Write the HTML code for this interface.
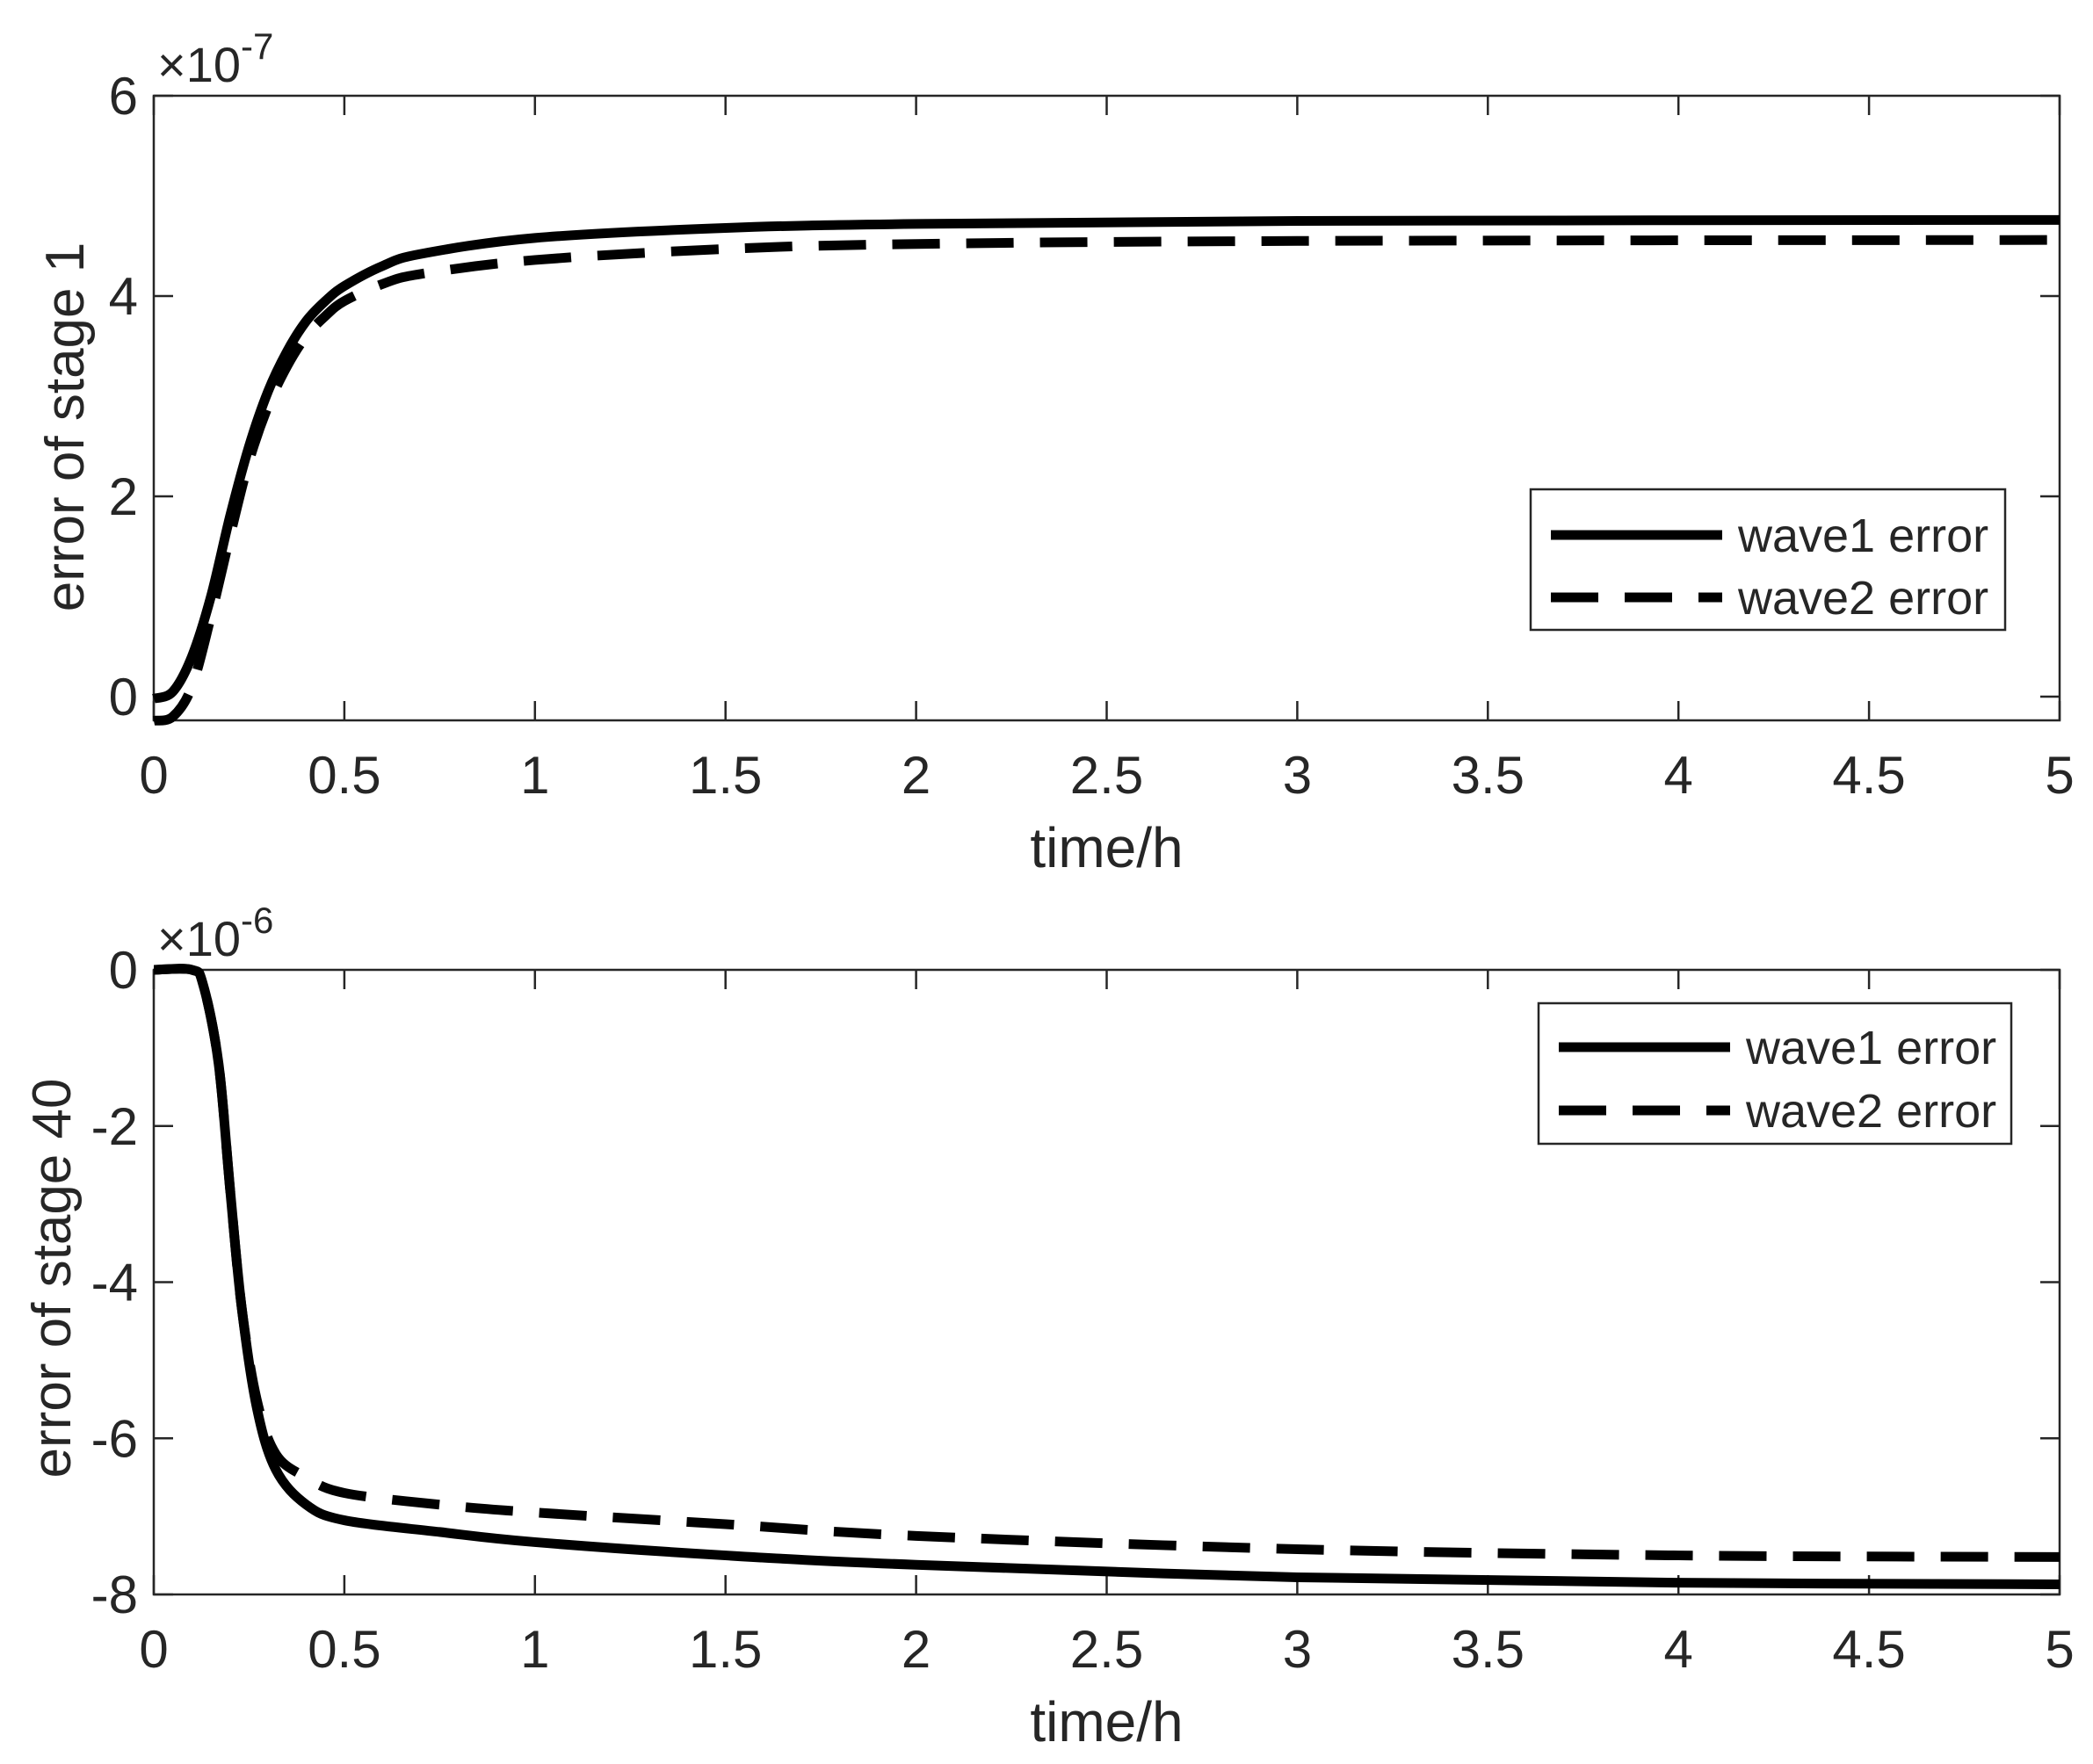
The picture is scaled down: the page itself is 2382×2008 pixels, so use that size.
<!DOCTYPE html>
<html><head><meta charset="utf-8"><style>
html,body{margin:0;padding:0;background:#fff}
svg{display:block}
text{font-family:"Liberation Sans",Arial,sans-serif;fill:#262626}
</style></head><body>
<svg id="s" width="2382" height="2008" xmlns="http://www.w3.org/2000/svg"></svg>
<script>
const S=document.getElementById('s');let h='';
const X0=175,X1=2344;
function xs(t){return X0+(X1-X0)*t/5}
function axes(top,bot,ymin,ymax,yt,ylx,yly,exp,expLabel){
  const ys=v=>bot-(v-ymin)/(ymax-ymin)*(bot-top);
  h+=`<rect x="${X0}" y="${top}" width="${X1-X0}" height="${bot-top}" fill="none" stroke="#262626" stroke-width="2.5"/>`;
  for(let i=0;i<=10;i++){const x=xs(i*0.5);
    h+=`<line x1="${x}" y1="${bot}" x2="${x}" y2="${bot-22}" stroke="#262626" stroke-width="2.5"/><line x1="${x}" y1="${top}" x2="${x}" y2="${top+22}" stroke="#262626" stroke-width="2.5"/>`;
    h+=`<text x="${x}" y="${bot+83}" font-size="60" text-anchor="middle">${i*0.5}</text>`;}
  yt.forEach(v=>{const y=ys(v);
    h+=`<line x1="${X0}" y1="${y}" x2="${X0+22}" y2="${y}" stroke="#262626" stroke-width="2.5"/><line x1="${X1}" y1="${y}" x2="${X1-22}" y2="${y}" stroke="#262626" stroke-width="2.5"/>`;
    h+=`<text x="${X0-18}" y="${y+21}" font-size="60" text-anchor="end">${v}</text>`;});
  h+=`<text x="${(X0+X1)/2}" y="${bot+167}" font-size="64" text-anchor="middle">time/h</text>`;
  h+=`<text transform="translate(${ylx},${yly}) rotate(-90)" font-size="62" text-anchor="middle">${expLabel}</text>`;
  h+=`<text x="${X0+4}" y="${top-16}" font-size="56">×10<tspan dy="-26" font-size="42">${exp}</tspan></text>`;
  return ys;
}
function path(pts,ys){
  const P=pts.map(p=>[xs(p[0]),ys(p[1])]);let d=`M${P[0][0]},${P[0][1]}`;
  for(let i=0;i<P.length-1;i++){const p0=P[Math.max(0,i-1)],p1=P[i],p2=P[i+1],p3=P[Math.min(P.length-1,i+2)];
    const c1=[p1[0]+(p2[0]-p0[0])/6,p1[1]+(p2[1]-p0[1])/6],c2=[p2[0]-(p3[0]-p1[0])/6,p2[1]-(p3[1]-p1[1])/6];
    d+=` C${c1[0]},${c1[1]} ${c2[0]},${c2[1]} ${p2[0]},${p2[1]}`;}
  return d;}
function series(d,dash){h+=`<path d="${d}" fill="none" stroke="#000" stroke-width="11" ${dash?'stroke-dasharray="54 30"':''}/>`;}
function legend(x1,y1,x2,y2,e1,e2){
  h+=`<rect x="${x1}" y="${y1}" width="${x2-x1}" height="${y2-y1}" fill="#fff" stroke="#262626" stroke-width="2.5"/>`;
  h+=`<line x1="${x1+23}" y1="${e1}" x2="${x1+218}" y2="${e1}" stroke="#000" stroke-width="11"/>`;
  h+=`<line x1="${x1+23}" y1="${e2}" x2="${x1+218}" y2="${e2}" stroke="#000" stroke-width="11" stroke-dasharray="54 30"/>`;
  h+=`<text x="${x1+236}" y="${e1+19}" font-size="54">wave1 error</text><text x="${x1+236}" y="${e2+19}" font-size="54">wave2 error</text>`;}
let ys=axes(109,820,-0.237,6,[0,2,4,6],95,486,'-7','error of stage 1');
series(path([[0,-0.02],[0.05,0.05],[0.1,0.4],[0.15,1.0],[0.2,1.8],[0.25,2.5],[0.3,3.05],[0.35,3.45],[0.4,3.75],[0.45,3.95],[0.5,4.1],[0.6,4.3],[0.7,4.42],[1,4.58],[1.5,4.68],[2,4.72],[3,4.75],[5,4.76]],ys),false);
series(path([[0,-0.24],[0.05,-0.2],[0.1,0.1],[0.15,0.8],[0.2,1.6],[0.25,2.35],[0.3,2.9],[0.35,3.3],[0.4,3.6],[0.45,3.8],[0.5,3.95],[0.6,4.12],[0.7,4.22],[1,4.36],[1.5,4.47],[2,4.52],[3,4.55],[5,4.56]],ys),true);
legend(1742,557,2282,717,609,680);
ys=axes(1104,1815,-8,0,[0,-2,-4,-6,-8],80,1455,'-6','error of stage 40');
series(path([[0,0],[0.1,0],[0.13,-0.2],[0.17,-1.2],[0.2,-2.8],[0.23,-4.3],[0.27,-5.6],[0.32,-6.4],[0.4,-6.85],[0.5,-7.05],[0.75,-7.2],[1,-7.33],[1.5,-7.5],[2,-7.62],[3,-7.78],[4,-7.85],[5,-7.87]],ys),false);
series(path([[0,0],[0.1,0],[0.13,-0.2],[0.17,-1.2],[0.2,-2.8],[0.23,-4.3],[0.27,-5.5],[0.32,-6.2],[0.4,-6.5],[0.5,-6.7],[0.75,-6.85],[1,-6.95],[1.5,-7.1],[2,-7.25],[3,-7.42],[4,-7.5],[5,-7.52]],ys),true);
legend(1751,1142,2289,1302,1192,1264);
S.innerHTML=h;
</script>
</body></html>
